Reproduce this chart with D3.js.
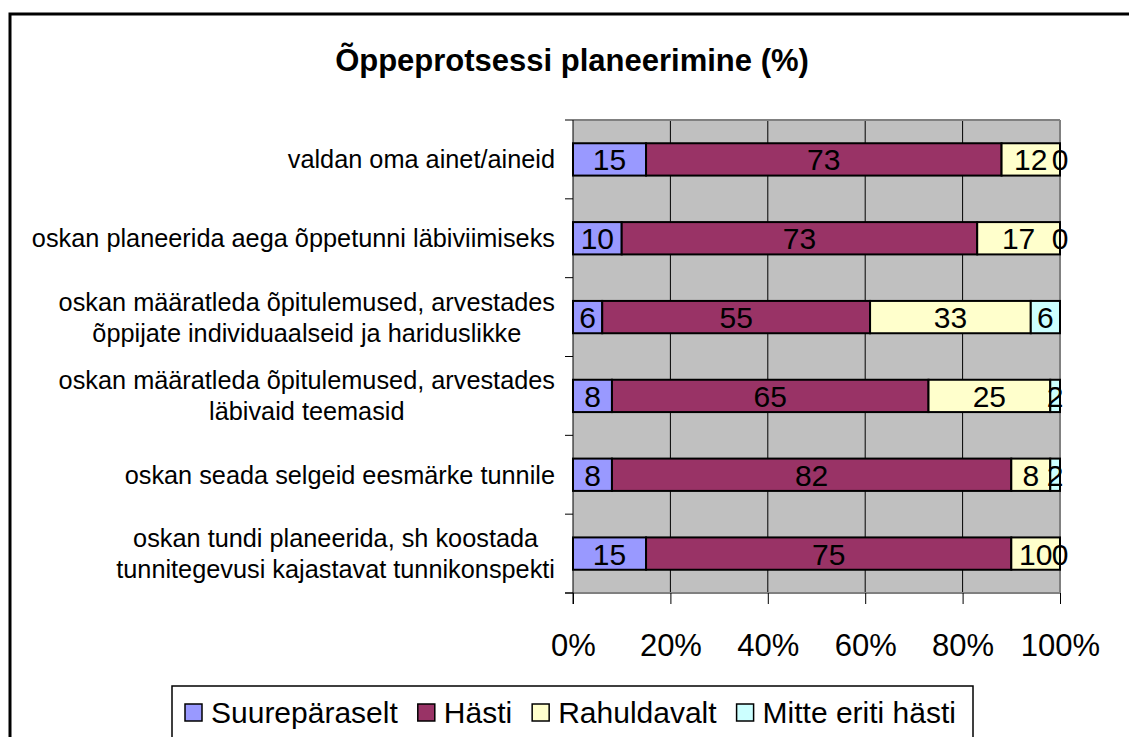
<!DOCTYPE html>
<html>
  <head>
    <meta charset="utf-8">
    <style>
      body { margin: 0; background: #fff; font-family: "Liberation Sans", Arial, sans-serif; }
      svg text { font-family: "Liberation Sans", Arial, sans-serif; }
    </style>
  </head>
  <body>
    <script src="https://cdn.jsdelivr.net/npm/d3@7"></script>
    <script>
      // chart data (percent)
      var categories = [
        ["valdan oma ainet/aineid"],
        ["oskan planeerida aega õppetunni läbiviimiseks"],
        ["oskan määratleda õpitulemused, arvestades", "õppijate individuaalseid ja hariduslikke"],
        ["oskan määratleda õpitulemused, arvestades", "läbivaid teemasid"],
        ["oskan seada selgeid eesmärke tunnile"],
        ["oskan tundi planeerida, sh koostada", "tunnitegevusi kajastavat tunnikonspekti"]
      ];
      var series = ["Suurepäraselt", "Hästi", "Rahuldavalt", "Mitte eriti hästi"];
      var suurepaeraselt = [15, 10, 6, 8, 8, 15];
      var hasti = [73, 73, 55, 65, 82, 75];
      var rahuldavalt = [12, 17, 33, 25, 8, 10];
      var mitteEriti = [0, 0, 6, 2, 2, 0];
      var ticks = [0, 20, 40, 60, 80, 100];
      var colors = ["#9999ff", "#993366", "#ffffcc", "#ccffff"];

      var W = 1129, H = 737;
      var svg = d3.select("body").append("svg")
          .attr("width", W).attr("height", H);

      // outer chart border
      svg.append("rect")
          .attr("x", 10).attr("y", 14)
          .attr("width", W + 20).attr("height", H + 20)
          .attr("fill", "#fff").attr("stroke", "#000").attr("stroke-width", 3);

      svg.append("text")
          .attr("x", 572).attr("y", 71)
          .attr("text-anchor", "middle")
          .style("font-size", "31px").style("font-weight", "bold")
          .text("Õppeprotsessi planeerimine (%)");

      var plot = {left: 573, right: 1060, top: 120, bottom: 593};

      var x = d3.scaleLinear().domain([0, 100]).range([plot.left, plot.right]);
      var yOuter = d3.scaleBand().domain(d3.range(categories.length))
          .range([plot.top, plot.bottom]);
      var y = d3.scaleBand().domain(d3.range(categories.length))
          .range([plot.top, plot.bottom]).paddingInner(0.59).paddingOuter(0.295);

      svg.append("rect")
          .attr("x", plot.left).attr("y", plot.top)
          .attr("width", plot.right - plot.left).attr("height", plot.bottom - plot.top)
          .attr("fill", "#c0c0c0");

      // vertical gridlines
      svg.append("g").selectAll("line")
          .data(ticks.slice(1, -1))
          .enter().append("line")
          .attr("x1", function(d) { return x(d); }).attr("x2", function(d) { return x(d); })
          .attr("y1", plot.top).attr("y2", plot.bottom)
          .attr("stroke", "#000").attr("stroke-width", 1);
      svg.append("line")
          .attr("x1", plot.right).attr("x2", plot.right)
          .attr("y1", plot.top).attr("y2", plot.bottom)
          .attr("stroke", "#808080").attr("stroke-width", 2);
      svg.append("line")
          .attr("x1", plot.left).attr("x2", plot.right)
          .attr("y1", plot.top).attr("y2", plot.top)
          .attr("stroke", "#808080").attr("stroke-width", 2);

      // x axis
      var xAxis = d3.axisBottom(x).tickValues(ticks)
          .tickSize(11).tickPadding(30)
          .tickFormat(function(d) { return d + "%"; });
      var gx = svg.append("g")
          .attr("transform", "translate(0," + plot.bottom + ")")
          .call(xAxis);
      gx.select(".domain").attr("stroke", "#808080").attr("stroke-width", 2)
          .attr("d", "M" + (plot.left - 8) + ",0H" + plot.right);
      gx.selectAll(".tick line").attr("stroke", "#000");
      gx.selectAll(".tick text").style("font-size", "31px").attr("fill", "#000")
          .attr("font-family", "Liberation Sans, Arial, sans-serif");

      // y axis: ticks between categories
      var yTicks = d3.range(categories.length + 1).map(function(i) {
        return plot.top + i * yOuter.step();
      });
      svg.append("g").selectAll("line")
          .data(yTicks)
          .enter().append("line")
          .attr("x1", plot.left - 8).attr("x2", plot.left)
          .attr("y1", function(d) { return d; }).attr("y2", function(d) { return d; })
          .attr("stroke", "#000");
      svg.append("line")
          .attr("x1", plot.left).attr("x2", plot.left)
          .attr("y1", plot.top).attr("y2", plot.bottom + 11)
          .attr("stroke", "#000").attr("stroke-width", 1);

      // category labels, centred lines, block right-aligned
      var labelRight = 555;
      categories.forEach(function(lines, i) {
        var cy = yOuter(i) + yOuter.bandwidth() / 2;
        var t = svg.append("g").selectAll("text").data(lines).enter().append("text")
            .attr("text-anchor", "middle")
            .style("font-size", "25.3px")
            .attr("y", function(d, j) { return cy + (j - (lines.length - 1) / 2) * 31 + 9; })
            .text(function(d) { return d; });
        var maxW = 0;
        t.each(function() { maxW = Math.max(maxW, this.getComputedTextLength()); });
        t.attr("x", labelRight - maxW / 2);
      });

      // stacked bars
      var rows = categories.map(function(c, i) {
        return [suurepaeraselt[i], hasti[i], rahuldavalt[i], mitteEriti[i]];
      });
      rows.forEach(function(vals, i) {
        var start = 0;
        vals.forEach(function(v, k) {
          var x0 = x(start), x1 = x(start + v);
          if (v > 0) {
            svg.append("rect")
                .attr("x", x0).attr("y", y(i))
                .attr("width", x1 - x0).attr("height", y.bandwidth())
                .attr("fill", colors[k]).attr("stroke", "#000").attr("stroke-width", 2);
          }
          start += v;
        });
      });
      rows.forEach(function(vals, i) {
        var start = 0;
        vals.forEach(function(v) {
          svg.append("text")
              .attr("x", (x(start) + x(start + v)) / 2)
              .attr("y", y(i) + y.bandwidth() / 2 + 11)
              .attr("text-anchor", "middle")
              .style("font-size", "30px")
              .text(v);
          start += v;
        });
      });

      // legend
      var legend = svg.append("g");
      legend.append("rect")
          .attr("x", 172).attr("y", 686)
          .attr("width", 801).attr("height", 80)
          .attr("fill", "#fff").attr("stroke", "#000").attr("stroke-width", 1.5);
      var lx = 185;
      series.forEach(function(s, k) {
        legend.append("rect")
            .attr("x", lx).attr("y", 704)
            .attr("width", 17).attr("height", 17)
            .attr("fill", colors[k]).attr("stroke", "#000").attr("stroke-width", 1.5);
        var t = legend.append("text")
            .attr("x", lx + 26).attr("y", 723)
            .style("font-size", "30px")
            .text(s);
        lx += 26 + t.node().getComputedTextLength() + 20;
      });
    </script>
  </body>
</html>
